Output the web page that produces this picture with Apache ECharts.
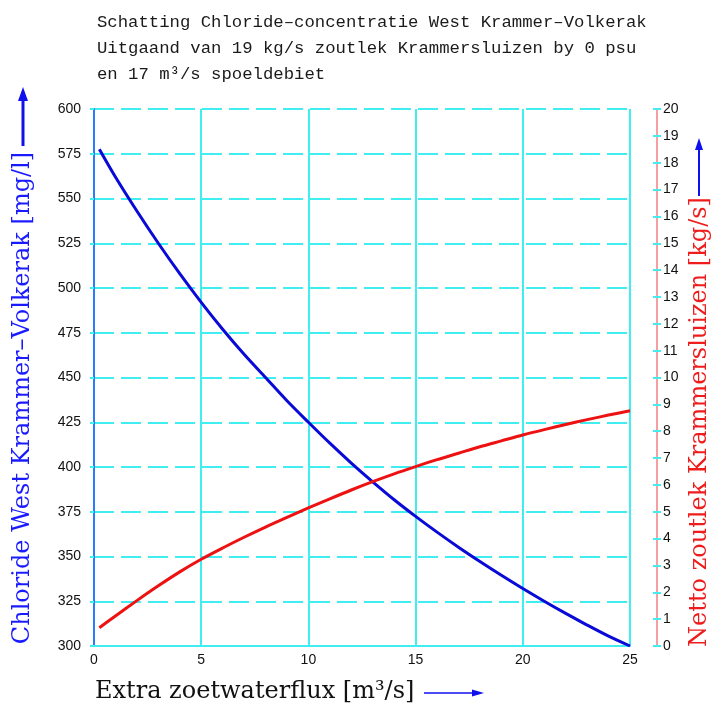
<!DOCTYPE html>
<html>
<head>
<meta charset="utf-8">
<script src="https://cdn.jsdelivr.net/npm/echarts@6/dist/echarts.min.js"></script>
<style>
  html, body { margin: 0; padding: 0; background: #fff; }
  #chart { width: 712px; height: 704px; }
</style>
</head>
<body>
<div id="chart"></div>
<script>
// extra zoetwaterflux [m3/s]
var flux = [0.25, 1, 2, 3, 4, 5, 6, 7, 8, 9, 10, 11, 12, 13, 14, 15, 16, 17, 18, 19, 20, 21, 22, 23, 24, 25];
// chloride West Krammer-Volkerak [mg/l]
var chloride = [577.5, 562, 543, 525, 508, 492, 477, 463, 450, 437, 425, 413.3, 402.2, 391.7, 381.7, 372.4, 363.6, 355.2, 347.2, 339.5, 332.1, 325, 318.2, 311.7, 305.5, 300];
// netto zoutlek Krammersluizen [kg/s]
var leak = [0.68, 1.12, 1.69, 2.24, 2.76, 3.23, 3.65, 4.05, 4.43, 4.79, 5.14, 5.48, 5.81, 6.12, 6.41, 6.68, 6.94, 7.18, 7.42, 7.64, 7.86, 8.06, 8.25, 8.43, 8.6, 8.76];

var xRange = [0, 25, 5];
var leftRange = [300, 600, 25];
var rightRange = [0, 20, 1];

var titleLines = [
    "Schatting Chloride\u2013concentratie West Krammer\u2013Volkerak",
    "Uitgaand van 19 kg/s zoutlek Krammersluizen by 0 psu",
    "en 17 m\u00b3/s spoeldebiet"
];

var CYAN = "#40eef2";
var chart = echarts.init(document.getElementById("chart"));

var serif = "DejaVu Serif";

var option = {
    animation: false,
    title: {
        text: titleLines.join("\n"),
        left: 92, top: 4,
        textStyle: {fontFamily: "Liberation Mono", fontSize: 17.3, fontWeight: "normal", color: "#1a1a1a", lineHeight: 26}
    },
    grid: {left: 94, right: 82, top: 109, bottom: 58},
    xAxis: {
        type: "value", min: xRange[0], max: xRange[1], interval: xRange[2],
        axisLine: {lineStyle: {color: CYAN, width: 2}},
        axisTick: {show: false},
        axisLabel: {color: "#111", fontFamily: "Liberation Sans", fontSize: 14, margin: 7},
        splitLine: {show: true, lineStyle: {color: CYAN, width: 2, type: "solid"}}
    },
    yAxis: [{
        type: "value", position: "left", min: leftRange[0], max: leftRange[1], interval: leftRange[2],
        axisLine: {show: true, lineStyle: {color: "#2a7cff", width: 2}},
        axisTick: {show: true, length: 4, lineStyle: {color: CYAN, width: 2}},
        axisLabel: {color: "#111", fontFamily: "Liberation Sans", fontSize: 14, margin: 13},
        splitLine: {show: true, lineStyle: {color: CYAN, width: 2, type: [20, 7]}}
    }, {
        type: "value", position: "right", offset: 27, min: rightRange[0], max: rightRange[1], interval: rightRange[2],
        axisLine: {show: true, lineStyle: {color: "#f4a0a0", width: 2}},
        axisTick: {show: true, length: 4, lineStyle: {color: CYAN, width: 2}},
        axisLabel: {color: "#111", fontFamily: "Liberation Sans", fontSize: 14, margin: 6},
        splitLine: {show: false}
    }, {
        type: "value", position: "right", offset: 27, min: rightRange[0], max: rightRange[1], interval: rightRange[2],
        axisLine: {show: false},
        axisTick: {show: true, inside: true, length: 4, lineStyle: {color: CYAN, width: 2}},
        axisLabel: {show: false},
        splitLine: {show: false}
    }],
    series: [{
        name: "Chloride",
        type: "line",
        yAxisIndex: 0,
        smooth: 0.3,
        showSymbol: false,
        lineStyle: {color: "#0a0ad8", width: 3},
        data: flux.map(function (x, i) { return [x, chloride[i]]; })
    }, {
        name: "Zoutlek",
        type: "line",
        yAxisIndex: 1,
        smooth: 0.3,
        showSymbol: false,
        lineStyle: {color: "#ee1111", width: 3},
        data: flux.map(function (x, i) { return [x, leak[i]]; })
    }],
    graphic: [
        // left axis name + arrow
        {type: "text", x: 23, y: 398, rotation: Math.PI / 2,
            style: {text: "Chloride West Krammer\u2013Volkerak [mg/l]", fill: "#1a1aff", font: "24px '" + serif + "'", align: "center", verticalAlign: "middle"}},
        {type: "line", shape: {x1: 23, y1: 146, x2: 23, y2: 98}, style: {stroke: "#1010ee", lineWidth: 3}},
        {type: "polygon", shape: {points: [[23, 87], [18, 101], [28, 101]]}, style: {fill: "#1010ee"}},
        // right axis name + arrow
        {type: "text", x: 700, y: 422, rotation: Math.PI / 2,
            style: {text: "Netto zoutlek Krammersluizen [kg/s]", fill: "#ee1c1c", font: "24px '" + serif + "'", align: "center", verticalAlign: "middle"}},
        {type: "line", shape: {x1: 699, y1: 196, x2: 699, y2: 148}, style: {stroke: "#1010ee", lineWidth: 2}},
        {type: "polygon", shape: {points: [[699, 138], [695, 150], [703, 150]]}, style: {fill: "#1010ee"}},
        // x axis name + arrow
        {type: "text", x: 95, y: 692,
            style: {text: "Extra zoetwaterflux [m\u00b3/s]", fill: "#111", font: "24px '" + serif + "'", align: "left", verticalAlign: "middle"}},
        {type: "line", shape: {x1: 424, y1: 693, x2: 474, y2: 693}, style: {stroke: "#1010ee", lineWidth: 1.5}},
        {type: "polygon", shape: {points: [[484, 693], [472, 689.5], [472, 696.5]]}, style: {fill: "#1010ee"}}
    ]
};

chart.setOption(option);
</script>
</body>
</html>
